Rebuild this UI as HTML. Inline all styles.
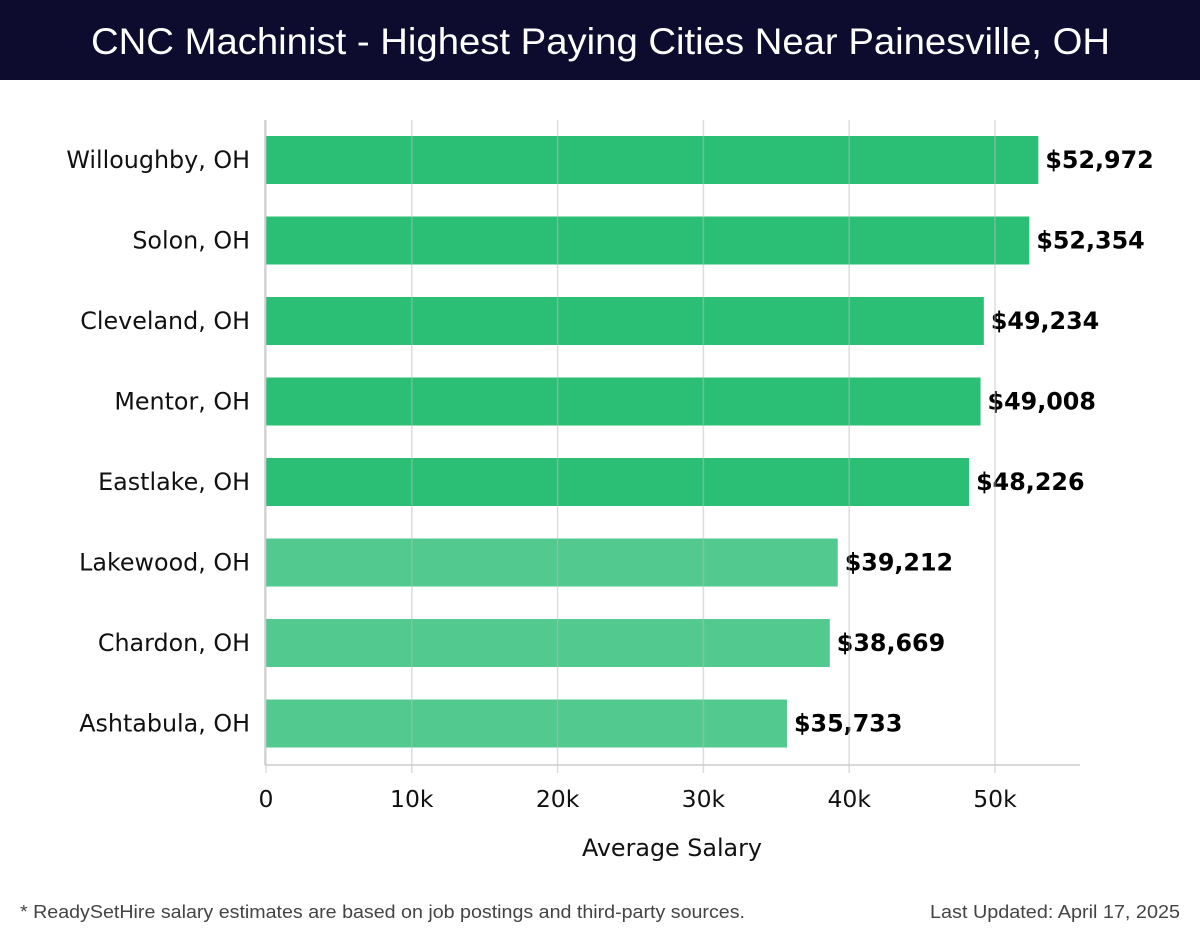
<!DOCTYPE html>
<html><head><meta charset="utf-8"><style>
body{margin:0;width:1200px;height:940px;background:#fff;font-family:"Liberation Sans",sans-serif;overflow:hidden}
#hdr{position:absolute;left:0;top:0;width:1200px;height:80px;background:#0d0c2e}
</style></head><body>
<div id="hdr"></div>
<svg id="c" width="1200" height="940" style="position:absolute;left:0;top:0">
<text x="91" y="54" font-size="37" fill="#fff" textLength="1019" lengthAdjust="spacingAndGlyphs" font-family="Liberation Sans, sans-serif">CNC Machinist - Highest Paying Cities Near Painesville, OH</text>
<text x="20" y="918" font-size="18" fill="#444" textLength="725" lengthAdjust="spacingAndGlyphs">* ReadySetHire salary estimates are based on job postings and third-party sources.</text>
<text x="930" y="918" font-size="18" fill="#444" textLength="250" lengthAdjust="spacingAndGlyphs">Last Updated: April 17, 2025</text>
</svg>
<script>
const cities=["Willoughby, OH","Solon, OH","Cleveland, OH","Mentor, OH","Eastlake, OH","Lakewood, OH","Chardon, OH","Ashtabula, OH"];
const salaries=[52972,52354,49234,49008,48226,39212,38669,35733];
const ticks=[0,10000,20000,30000,40000,50000];
const tickLabels=["0","10k","20k","30k","40k","50k"];
const NS="http://www.w3.org/2000/svg",svg=document.getElementById('c');
const x0=266,pxPer=14.58/1000,top0=120,band=80.5;
const X=v=>x0+v*pxPer, Y=i=>top0+i*band;
const DJ='"DejaVu Sans", sans-serif';
function mk(t,a,p){const e=document.createElementNS(NS,t);for(const k in a)e.setAttribute(k,a[k]);(p||svg).appendChild(e);return e;}
cities.forEach((c,i)=>{
 const b=mk('rect',{x:x0,y:Y(i)+16,width:X(salaries[i])-x0,height:48,fill:i<5?'#2bbf76':'#52c98f'});
 
 
 const l=mk('text',{x:250,y:Y(i)+48,'text-anchor':'end','font-size':23.8,fill:'#111','font-family':DJ});l.textContent=c;
 
 
 const v=mk('text',{x:X(salaries[i])+7,y:Y(i)+48,'font-size':23.8,'font-weight':'bold',fill:'#000','font-family':DJ});v.textContent='$'+salaries[i].toLocaleString('en-US');
 
 
});
ticks.forEach((t,i)=>{
 const g=mk('line',{x1:X(t),x2:X(t),y1:120,y2:773,stroke:'#bbb','stroke-opacity':0.5,'stroke-width':1.5});
 
 
 const tl=mk('text',{x:X(t),y:807,'text-anchor':'middle','font-size':23.5,fill:'#111','font-family':DJ});tl.textContent=tickLabels[i];
 
 
});
const ax=mk('line',{x1:265,x2:1080,y1:765,y2:765,stroke:'#ccc','stroke-width':1.5});


const ay=mk('line',{x1:265,x2:265,y1:120,y2:765,stroke:'#ccc','stroke-width':1.5});


const xt=mk('text',{x:672,y:856,'text-anchor':'middle','font-size':23.8,fill:'#111','font-family':DJ});xt.textContent='Average Salary';


</script>
</body></html>
